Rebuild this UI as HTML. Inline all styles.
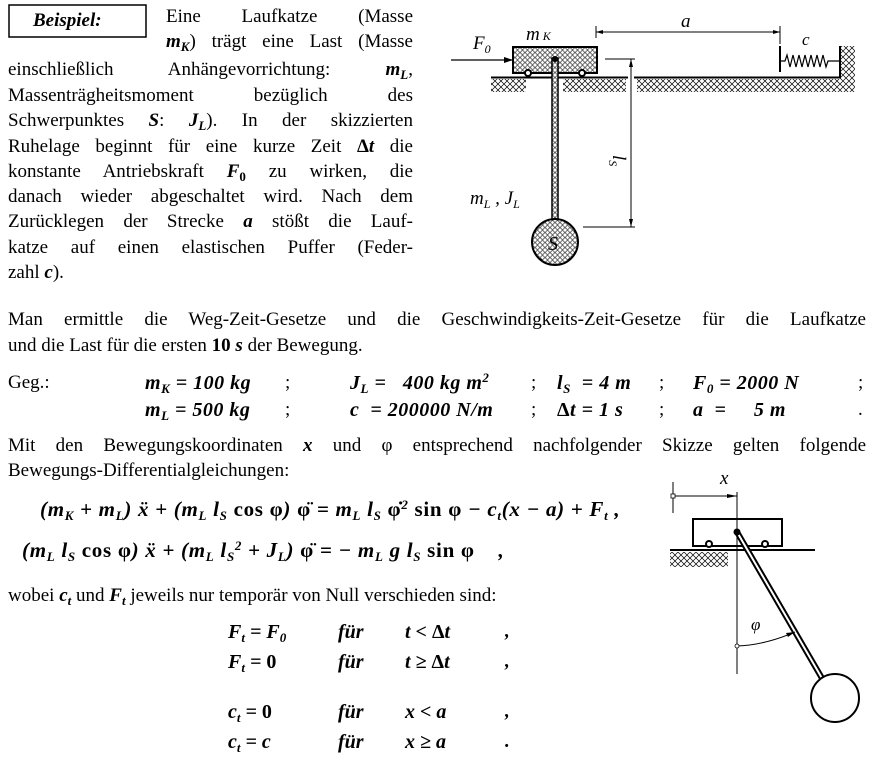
<!DOCTYPE html>
<html><head><meta charset="utf-8"><style>
body{margin:0;width:870px;height:767px;background:#fff;position:relative;overflow:hidden;font-family:"Liberation Serif",serif;font-size:19px;color:#000}
.l{position:absolute;white-space:nowrap;line-height:24px}
.j{text-align:justify;text-align-last:justify;white-space:normal}
b i,i b{font-weight:bold}
.e{position:absolute;white-space:nowrap;font-weight:bold;font-style:italic;line-height:24px}
.g{font-size:20px;letter-spacing:0.5px}
.q{font-size:21px !important;letter-spacing:0.7px}
.k{font-size:20px}
sub{font-size:13px;vertical-align:-4px;line-height:0}
sup{font-size:13px;vertical-align:7px;line-height:0}
svg{position:absolute;left:0;top:0}
</style></head><body>
<svg width="870" height="767" viewBox="0 0 870 767">
<defs>
<pattern id="h" width="6" height="6" patternUnits="userSpaceOnUse"><path d="M0 6L6 0M0 0L6 6" stroke="#000" stroke-width="0.7"/></pattern>
<pattern id="c" width="5" height="5" patternUnits="userSpaceOnUse"><rect width="5" height="5" fill="#fff"/><circle cx="2.5" cy="2.5" r="1.8" fill="none" stroke="#000" stroke-width="0.7"/></pattern>
</defs>
<rect x="9" y="5" width="137" height="32" fill="none" stroke="#000" stroke-width="1.5"/>
<rect x="491" y="79" width="35" height="13" fill="url(#h)"/>
<rect x="563" y="79" width="63" height="13" fill="url(#h)"/>
<rect x="637" y="79" width="203" height="13" fill="url(#h)"/>
<rect x="840" y="46" width="15" height="46" fill="url(#h)"/>
<line x1="491" y1="77.5" x2="628" y2="77.5" stroke="#000" stroke-width="2"/>
<line x1="634" y1="77.5" x2="841" y2="77.5" stroke="#000" stroke-width="2"/>
<line x1="840" y1="46" x2="840" y2="78" stroke="#000" stroke-width="2"/>
<line x1="780" y1="46" x2="780" y2="72" stroke="#000" stroke-width="2"/>
<polyline points="780,61 785,61 787,55 790,67 793,55 796,67 799,55 802,67 805,55 808,67 811,55 814,67 817,55 820,67 823,55 826,67 828,61 840,61" fill="none" stroke="#000" stroke-width="1.2"/>
<rect x="513" y="47" width="84" height="26" fill="url(#c)" stroke="#000" stroke-width="2"/>
<circle cx="528" cy="73" r="3" fill="#fff" stroke="#000" stroke-width="2"/>
<circle cx="582" cy="73" r="3" fill="#fff" stroke="#000" stroke-width="2"/>
<rect x="552" y="58" width="6" height="165" fill="url(#c)" stroke="#000" stroke-width="1.5"/>
<circle cx="555" cy="59" r="3" fill="#000"/>
<circle cx="555" cy="242" r="23" fill="url(#c)" stroke="#000" stroke-width="2"/>
<line x1="451" y1="60" x2="513" y2="60" stroke="#000" stroke-width="1.3"/>
<path d="M513 60l-9-3v6z" fill="#000"/>
<line x1="605" y1="59" x2="635" y2="59" stroke="#000"/>
<line x1="583" y1="227" x2="635" y2="227" stroke="#000"/>
<line x1="631" y1="59" x2="631" y2="227" stroke="#000"/>
<path d="M631 59l-2 8h4zM631 227l-2-8h4z" fill="#000"/>
<line x1="596" y1="26" x2="596" y2="38" stroke="#000"/>
<line x1="596" y1="32" x2="780" y2="32" stroke="#000"/>
<line x1="780" y1="26" x2="780" y2="44" stroke="#000"/>
<path d="M596 32l7-2v4zM780 32l-7-2v4z" fill="#000"/>
<text x="473" y="49" font-family="Liberation Serif" font-style="italic" font-size="19">F<tspan font-size="12" dy="4">0</tspan></text>
<text x="526" y="40" font-family="Liberation Serif" font-style="italic" font-size="19">m<tspan font-size="12" dx="3" dy="0">K</tspan></text>
<text x="681" y="27" font-family="Liberation Serif" font-style="italic" font-size="19">a</text>
<text x="802" y="45" font-family="Liberation Serif" font-style="italic" font-size="17">c</text>
<text x="470" y="204" font-family="Liberation Serif" font-style="italic" font-size="19">m<tspan font-size="12" dy="4">L</tspan><tspan dy="-4"> , J</tspan><tspan font-size="12" dy="4">L</tspan></text>
<text x="548" y="250" font-family="Liberation Serif" font-style="italic" font-size="20">S</text>
<text transform="translate(613,155) rotate(90)" font-family="Liberation Serif" font-style="italic" font-size="19">l<tspan font-size="12" dy="4">S</tspan></text>
<rect x="670" y="552" width="58" height="15" fill="url(#h)"/>
<line x1="673" y1="482" x2="673" y2="513" stroke="#000"/>
<line x1="673" y1="496" x2="737" y2="496" stroke="#000"/>
<rect x="671" y="494" width="4" height="4" fill="#fff" stroke="#000" stroke-width="0.8"/>
<path d="M737 496l-10-2v4z" fill="#000"/>
<line x1="737" y1="492" x2="737" y2="674" stroke="#000"/>
<rect x="693" y="519" width="89" height="27" fill="none" stroke="#000" stroke-width="2"/>
<line x1="670" y1="550" x2="815" y2="550" stroke="#000" stroke-width="2"/>
<circle cx="709" cy="544" r="3" fill="#fff" stroke="#000" stroke-width="2"/>
<circle cx="765" cy="544" r="3" fill="#fff" stroke="#000" stroke-width="2"/>
<line x1="737" y1="532" x2="823" y2="680" stroke="#000" stroke-width="6"/>
<line x1="737" y1="532" x2="823" y2="680" stroke="#fff" stroke-width="2"/>
<circle cx="737" cy="532" r="3.5" fill="#000"/>
<circle cx="835" cy="698" r="24" fill="#fff" stroke="#000" stroke-width="2"/>
<path d="M737 646Q765 645 795 632" fill="none" stroke="#000"/>
<path d="M795 632l-9 1 2 4z" fill="#000"/>
<circle cx="737" cy="646" r="2" fill="#fff" stroke="#000" stroke-width="0.8"/>
<text x="751" y="630" font-family="Liberation Serif" font-style="italic" font-size="17">φ</text>
<text x="720" y="484" font-family="Liberation Serif" font-style="italic" font-size="19">x</text>
</svg>

<div class="l" style="left:33px;top:9px;font-weight:bold;font-style:italic">Beispiel:</div>
<div class="l j" style="left:166px;top:5px;width:247px">Eine Laufkatze (Masse</div>
<div class="l j" style="left:166px;top:30px;width:247px"><b><i>m<sub>K</sub></i></b>) trägt eine Last (Masse</div>
<div class="l j" style="left:8px;top:58px;width:405px">einschließlich Anhängevorrichtung: <b><i>m<sub>L</sub></i></b>,</div>
<div class="l j" style="left:8px;top:84px;width:405px">Massenträgheitsmoment bezüglich des</div>
<div class="l j" style="left:8px;top:109px;width:405px">Schwerpunktes <b><i>S</i></b>: <b><i>J<sub>L</sub></i></b>). In der skizzierten</div>
<div class="l j" style="left:8px;top:135px;width:405px">Ruhelage beginnt für eine kurze Zeit <b>Δ<i>t</i></b> die</div>
<div class="l j" style="left:8px;top:160px;width:405px">konstante Antriebskraft <b><i>F</i><sub>0</sub></b> zu wirken, die</div>
<div class="l j" style="left:8px;top:185px;width:405px">danach wieder abgeschaltet wird. Nach dem</div>
<div class="l j" style="left:8px;top:210px;width:405px">Zurücklegen der Strecke <b><i>a</i></b> stößt die Lauf-</div>
<div class="l j" style="left:8px;top:236px;width:405px">katze auf einen elastischen Puffer (Feder-</div>
<div class="l" style="left:8px;top:261px">zahl <b><i>c</i></b>).</div>

<div class="l j" style="left:8px;top:308px;width:858px">Man ermittle die Weg-Zeit-Gesetze und die Geschwindigkeits-Zeit-Gesetze für die Laufkatze</div>
<div class="l" style="left:8px;top:334px">und die Last für die ersten <b>10</b> <b><i>s</i></b> der Bewegung.</div>

<div class="l" style="left:8px;top:371px">Geg.:</div>
<div class="e g" style="left:145px;top:371px">m<sub>K</sub> = 100 kg</div>
<div class="l" style="left:285px;top:371px">;</div>
<div class="e g" style="left:350px;top:371px">J<sub>L</sub> = &nbsp;&nbsp;400 kg m<sup>2</sup></div>
<div class="l" style="left:531px;top:371px">;</div>
<div class="e g" style="left:557px;top:371px">l<sub>S</sub> &nbsp;= 4 m</div>
<div class="l" style="left:659px;top:371px">;</div>
<div class="e g" style="left:693px;top:371px">F<sub>0</sub> = 2000 N</div>
<div class="l" style="left:858px;top:371px">;</div>
<div class="e g" style="left:145px;top:398px">m<sub>L</sub> = 500 kg</div>
<div class="l" style="left:285px;top:398px">;</div>
<div class="e g" style="left:350px;top:398px">c &nbsp;= 200000 N/m</div>
<div class="l" style="left:531px;top:398px">;</div>
<div class="e g" style="left:557px;top:398px"><span style="font-style:normal">Δ</span>t = 1 s</div>
<div class="l" style="left:659px;top:398px">;</div>
<div class="e g" style="left:693px;top:398px">a &nbsp;= &nbsp;&nbsp;&nbsp;&nbsp;5 m</div>
<div class="l" style="left:858px;top:398px">.</div>

<div class="l j" style="left:8px;top:434px;width:858px">Mit den Bewegungskoordinaten <b><i>x</i></b> und φ entsprechend nachfolgender Skizze gelten folgende</div>
<div class="l" style="left:8px;top:459px">Bewegungs-Differentialgleichungen:</div>

<div class="e q" style="left:40px;top:497px">(m<sub>K</sub> + m<sub>L</sub>) ẍ + (m<sub>L</sub> l<sub>S</sub> <span style="font-style:normal">cos φ</span>) <span style="font-style:normal">φ̈</span> = m<sub>L</sub> l<sub>S</sub> <span style="font-style:normal">φ̇</span><sup>2</sup> <span style="font-style:normal">sin φ</span> − c<sub>t</sub>(x − a) + F<sub>t</sub> ,</div>
<div class="e q" style="left:22px;top:538px">(m<sub>L</sub> l<sub>S</sub> <span style="font-style:normal">cos φ</span>) ẍ + (m<sub>L</sub> l<sub>S</sub><sup>2</sup> + J<sub>L</sub>) <span style="font-style:normal">φ̈</span> = − m<sub>L</sub> g l<sub>S</sub> <span style="font-style:normal">sin φ</span> &nbsp;&nbsp;&nbsp;,</div>

<div class="l" style="left:8px;top:584px">wobei <b><i>c<sub>t</sub></i></b> und <b><i>F<sub>t</sub></i></b> jeweils nur temporär von Null verschieden sind:</div>

<div class="e k" style="left:228px;top:620px">F<sub>t</sub> = F<sub>0</sub></div><div class="e k" style="left:338px;top:620px">für</div><div class="e k" style="left:405px;top:620px">t &lt; <span style="font-style:normal">Δ</span>t</div><div class="e" style="left:505px;top:620px">,</div>
<div class="e k" style="left:228px;top:650px">F<sub>t</sub> = <span style="font-style:normal">0</span></div><div class="e k" style="left:338px;top:650px">für</div><div class="e k" style="left:405px;top:650px">t ≥ <span style="font-style:normal">Δ</span>t</div><div class="e" style="left:505px;top:650px">,</div>
<div class="e k" style="left:228px;top:700px">c<sub>t</sub> = <span style="font-style:normal">0</span></div><div class="e k" style="left:338px;top:700px">für</div><div class="e k" style="left:405px;top:700px">x &lt; a</div><div class="e" style="left:505px;top:700px">,</div>
<div class="e k" style="left:228px;top:730px">c<sub>t</sub> = c</div><div class="e k" style="left:338px;top:730px">für</div><div class="e k" style="left:405px;top:730px">x ≥ a</div><div class="e" style="left:505px;top:730px">.</div>
</body></html>
